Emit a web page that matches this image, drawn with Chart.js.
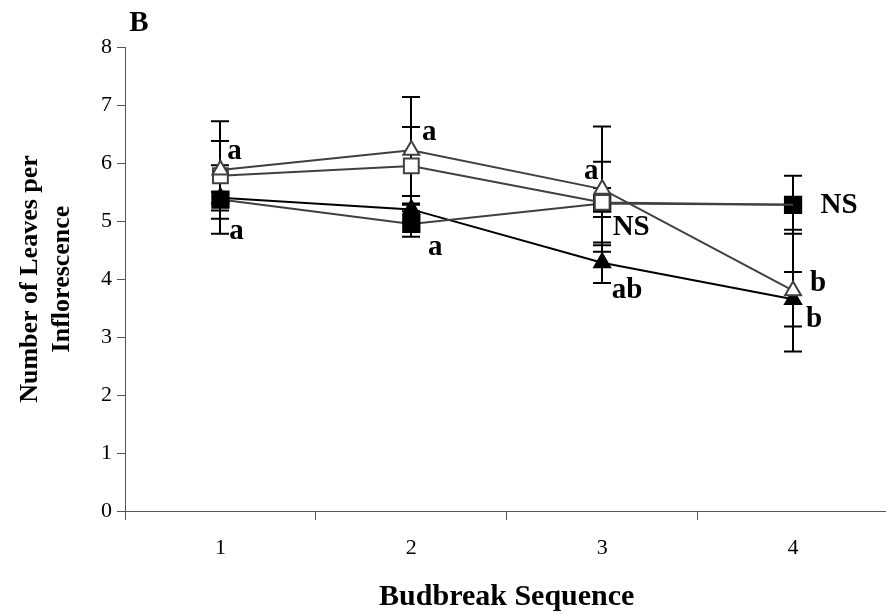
<!DOCTYPE html>
<html>
<head>
<meta charset="utf-8">
<title>Number of Leaves per Inflorescence</title>
<script src="https://cdn.jsdelivr.net/npm/chart.js@4.4.0/dist/chart.umd.min.js"></script>
<style>
  html, body { margin: 0; padding: 0; background: #fff; overflow: hidden; width: 886px; height: 614px; }
  #ChartTable { width: 886px; height: 614px; overflow: hidden; position: relative; }
  #graphCanvas { position: absolute; left: 0; top: 0; }
</style>
</head>
<body>
<div id="ChartTable"><canvas id="graphCanvas" width="902" height="614"></canvas></div>
<script>
// budbreak sequence on x, mean leaves per inflorescence with error bars
const sequence = ['1', '2', '3', '4'];
const yTicks = [0, 1, 2, 3, 4, 5, 6, 7, 8];

const openTriangle = [5.88, 6.22, 5.55, 3.80];
const openTriangleErr = [0.84, 0.92, 1.08, 1.05];

const openSquare = [5.78, 5.95, 5.32, 5.28];
const openSquareErr = [0.60, 0.67, 0.25, 0.10];

const filledSquare = [5.37, 4.95, 5.30, 5.28];
const filledSquareErr = [0.59, 0.22, 0.72, 0.50];

const filledTriangle = [5.40, 5.20, 4.28, 3.65];
const filledTriangleErr = [0.10, 0.23, 0.35, 0.47];

// significance letters: category index, value level, horizontal nudge in px
const letters = [
  { text: 'a', at: 0, level: 6.20, dx: 14 },
  { text: 'a', at: 0, level: 4.82, dx: 16 },
  { text: 'a', at: 1, level: 6.52, dx: 18 },
  { text: 'a', at: 1, level: 4.55, dx: 24 },
  { text: 'a', at: 2, level: 5.86, dx: -11 },
  { text: 'NS', at: 2, level: 4.88, dx: 29 },
  { text: 'ab', at: 2, level: 3.80, dx: 25 },
  { text: 'NS', at: 3, level: 5.26, dx: 46 },
  { text: 'b', at: 3, level: 3.92, dx: 25 },
  { text: 'b', at: 3, level: 3.31, dx: 21 }
];

const serif = '"Liberation Serif", "Times New Roman", serif';
const gray = '#404040';

const errorBars = {
  id: 'errorBars',
  beforeDatasetsDraw(chart) {
    const ctx = chart.ctx;
    const xs = chart.scales.x, ys = chart.scales.y;
    ctx.save();
    ctx.strokeStyle = '#000';
    ctx.lineWidth = 2;
    chart.data.datasets.forEach(ds => {
      ds.data.forEach((v, i) => {
        const px = Math.round(xs.getPixelForValue(i));
        const top = ys.getPixelForValue(v + ds.err[i]);
        const bot = ys.getPixelForValue(v - ds.err[i]);
        ctx.beginPath();
        ctx.moveTo(px, top); ctx.lineTo(px, bot);
        ctx.moveTo(px - 9, top); ctx.lineTo(px + 9, top);
        ctx.moveTo(px - 9, bot); ctx.lineTo(px + 9, bot);
        ctx.stroke();
      });
    });
    ctx.restore();
  }
};

const annotations = {
  id: 'annotations',
  afterDraw(chart) {
    const ctx = chart.ctx;
    const xs = chart.scales.x, ys = chart.scales.y;
    ctx.save();
    ctx.fillStyle = '#000';
    ctx.textAlign = 'center';
    ctx.textBaseline = 'middle';
    ctx.font = 'bold 29px ' + serif;
    letters.forEach(l => {
      ctx.fillText(l.text, xs.getPixelForValue(l.at) + l.dx, ys.getPixelForValue(l.level));
    });
    ctx.fillText('B', 139, 24);
    ctx.restore();
  }
};

function series(data, err, style, radius, fill, line) {
  return {
    data: data,
    err: err,
    borderColor: line,
    borderWidth: 2,
    pointStyle: style,
    pointRadius: radius,
    pointBackgroundColor: fill,
    pointBorderColor: fill === '#fff' ? gray : '#000',
    pointBorderWidth: 2,
    tension: 0,
    fill: false
  };
}

new Chart(document.getElementById('graphCanvas'), {
  type: 'line',
  data: {
    labels: sequence,
    datasets: [
      series(openTriangle, openTriangleErr, 'triangle', 9.2, '#fff', gray),
      series(openSquare, openSquareErr, 'rect', [10.5, 10.5, 10.5, 0], '#fff', gray),
      series(filledSquare, filledSquareErr, 'rect', 11.5, '#000', gray),
      series(filledTriangle, filledTriangleErr, 'triangle', 9.2, '#000', '#000')
    ]
  },
  options: {
    responsive: false,
    animation: false,
    events: [],
    layout: { padding: { top: 47, right: 1, left: 0, bottom: 0 } },
    plugins: { legend: { display: false }, tooltip: { enabled: false } },
    scales: {
      x: {
        type: 'category',
        offset: true,
        grid: { offset: true, drawOnChartArea: false, tickLength: 9, color: '#555' },
        border: { display: true, color: '#555', width: 1 },
        ticks: { color: '#000', font: { family: serif, size: 22 }, padding: 15 },
        title: {
          display: true,
          text: 'Budbreak Sequence',
          color: '#000',
          font: { family: serif, size: 30, weight: 'bold', lineHeight: 1.1 },
          padding: 0
        },
        afterFit(scale) { scale.height = 103; }
      },
      y: {
        min: 0,
        max: 8,
        afterBuildTicks(scale) { scale.ticks = yTicks.map(v => ({ value: v })); },
        grid: { drawOnChartArea: false, tickLength: 8, color: '#555' },
        border: { display: true, color: '#555', width: 1 },
        ticks: { color: '#000', font: { family: serif, size: 22 }, padding: 5 },
        title: {
          display: true,
          text: ['Number of Leaves per', 'Inflorescence'],
          color: '#000',
          font: { family: serif, size: 26, weight: 'bold', lineHeight: 1.23 },
          padding: { top: 14, bottom: 0 }
        },
        afterFit(scale) { scale.width = 125; }
      }
    }
  },
  plugins: [errorBars, annotations]
});
</script>
</body>
</html>
